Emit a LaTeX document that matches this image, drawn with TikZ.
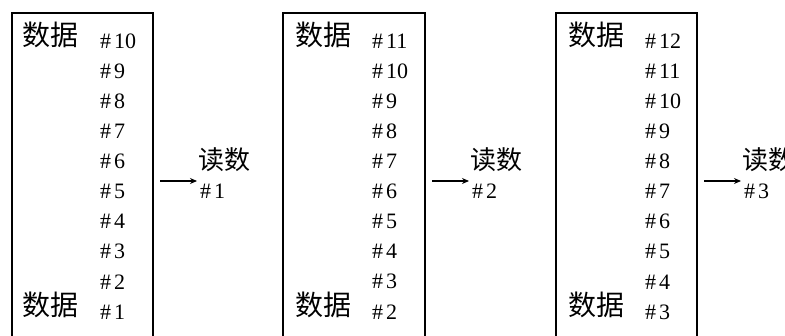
\documentclass[tikz,border=0pt]{standalone}
\usepackage{fontspec}
\setmainfont{Liberation Serif}
\newfontfamily\cjk{Noto Sans CJK SC}
\usetikzlibrary{arrows.meta}
\begin{document}
\begin{tikzpicture}[x=1pt,y=-1pt,
  num/.style={anchor=west,inner sep=0pt,font=\fontsize{22}{22}\selectfont},
  zh/.style={anchor=west,inner sep=0pt,font=\cjk\fontsize{28}{28}\selectfont},
  zhs/.style={anchor=west,inner sep=0pt,font=\cjk\fontsize{26}{26}\selectfont},
  frame/.style={line width=2pt},
  feed/.style={line width=2.2pt,-{Stealth[length=7pt,width=6pt]}}]
\useasboundingbox (0,0) rectangle (785,336);
\clip (0,0) rectangle (785,336);
\foreach \i/\xl/\xr/\xn/\xz/\topn in {1/12/153/100/22/10, 2/283/425/372/295/11, 3/556/697/645/568/12}{
  \draw[frame] (\xl,345) -- (\xl,13) -- (\xr,13) -- (\xr,345);
  \node[zh] (zt\i) at (\xz,35) {数据};
  \node[zh] (zb\i) at (\xz,305) {数据};
  \foreach \k in {0,...,9}{
    \pgfmathtruncatemacro\n{\topn-\k}
    \node[num] (n\i-\k) at (\xn,{41+30.1*\k}) {\#\kern3pt\n};
  }
  \node[zhs] (rd\i) at (\xr+45,160) {读数};
  \node[num] (rn\i) at (\xr+47,191) {\#\kern3pt\i};
  \coordinate (s\i) at (\xr+7,181);
  \coordinate (t\i) at (\xr+44,181);
  \draw[feed] (s\i) -- (t\i);
}
\end{tikzpicture}
\end{document}
